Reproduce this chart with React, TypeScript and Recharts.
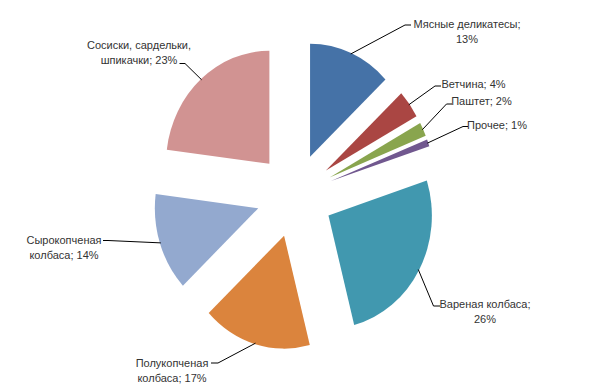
import { PieChart, Pie, Cell } from "recharts";

// Структура рынка колбасных изделий, доли в %
const categories = [
  "Мясные деликатесы",
  "Ветчина",
  "Паштет",
  "Прочее",
  "Вареная колбаса",
  "Полукопченая колбаса",
  "Сырокопченая колбаса",
  "Сосиски, сардельки, шпикачки",
];
const shares = [13, 4, 2, 1, 26, 17, 14, 23];
const labelLines = [
  ["Мясные деликатесы;", "13%"],
  ["Ветчина; 4%"],
  ["Паштет; 2%"],
  ["Прочее; 1%"],
  ["Вареная колбаса;", "26%"],
  ["Полукопченая", "колбаса; 17%"],
  ["Сырокопченая", "колбаса; 14%"],
  ["Сосиски, сардельки,", "шпикачки; 23%"],
];

// Excel 2007 palette
const COLORS = ["#4572A7", "#AA4643", "#89A54E", "#71588F", "#4198AF", "#DB843D", "#93A9CF", "#D19392"];

const CENTER = { x: 294.8, y: 195.3 };
const EXPLODE = 42;
const RADIUS = 113;
// the original picture was squeezed horizontally
const SQUEEZE = 0.915;
const LINE_H = 15;

// where each data label sits: text centre x, first line centre y, leader elbow
const LABEL_LAYOUT = [
  { x: 467, y: 23.5, elbow: [405, 25], end: [411, 25] },
  { x: 473.5, y: 83.5, elbow: [435, 86], end: [441, 86] },
  { x: 481.5, y: 101, elbow: [446.5, 104], end: [452, 104] },
  { x: 497, y: 125, elbow: [463, 126.5], end: [468, 126.5] },
  { x: 485, y: 303.5, elbow: [433.5, 306], end: [440, 306] },
  { x: 172, y: 362.5, elbow: [218, 363], end: [211, 363] },
  { x: 64, y: 239.5, elbow: [108, 240.5], end: [103, 240.5] },
  { x: 139, y: 44.5, elbow: [185, 63.5], end: [179.5, 63.5] },
];

const data = categories.map((name, i) => ({ name, value: shares[i] }));
const total = shares.reduce((a, b) => a + b, 0);

// every slice is pushed out along its own bisector
const sliceCenters = shares.map((v, i) => {
  const before = shares.slice(0, i).reduce((a, b) => a + b, 0);
  const bearing = ((before + v / 2) / total) * 2 * Math.PI;
  return {
    cx: CENTER.x + EXPLODE * Math.sin(bearing),
    cy: CENTER.y - EXPLODE * Math.cos(bearing),
  };
});

const RAD = Math.PI / 180;

const makeLabel = (slice: number) => (props: any) => {
  if (props.index !== slice) return null;
  const ax = props.cx + (props.outerRadius - 1) * Math.cos(-props.midAngle * RAD);
  const sy = props.cy + (props.outerRadius - 1) * Math.sin(-props.midAngle * RAD);
  const sx = CENTER.x + (ax - CENTER.x) * SQUEEZE;
  const lay = LABEL_LAYOUT[slice];
  const lines = labelLines[slice];
  return (
    <g>
      <polyline
        points={`${sx},${sy} ${lay.elbow[0]},${lay.elbow[1]} ${lay.end[0]},${lay.end[1]}`}
        fill="none"
        stroke="#000"
        strokeWidth={1}
      />
      <text
        textAnchor="middle"
        fontFamily="'Liberation Sans', Arial, sans-serif"
        fontSize={11}
        fill="#333"
      >
        {lines.map((t, k) => (
          <tspan key={k} x={lay.x} y={lay.y + k * LINE_H + 4}>
            {t}
          </tspan>
        ))}
      </text>
    </g>
  );
};

const squeezeCss = `
.recharts-pie-sector {
  transform-box: view-box;
  transform-origin: ${CENTER.x}px ${CENTER.y}px;
  transform: scaleX(${SQUEEZE});
}
`;

export default function App() {
  return (
    <div style={{ position: "absolute", left: 0, top: 0, width: 590, height: 391, background: "#fff" }}>
      <style>{squeezeCss}</style>
      <PieChart width={590} height={391} margin={{ top: 0, right: 0, bottom: 0, left: 0 }}>
        {sliceCenters.map((c, s) => (
          <Pie
            key={s}
            data={data}
            dataKey="value"
            nameKey="name"
            cx={c.cx}
            cy={c.cy}
            outerRadius={RADIUS}
            innerRadius={0}
            startAngle={90}
            endAngle={-270}
            stroke="none"
            label={makeLabel(s)}
            labelLine={false}
            isAnimationActive={false}
          >
            {data.map((_, i) => (
              <Cell key={i} fill={i === s ? COLORS[i] : "none"} />
            ))}
          </Pie>
        ))}
      </PieChart>
    </div>
  );
}
